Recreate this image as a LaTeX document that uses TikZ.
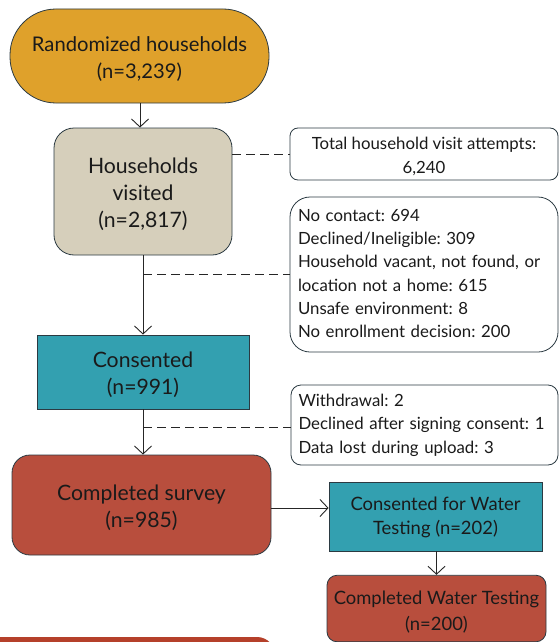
\documentclass[tikz,border=0pt]{standalone}
\usepackage{fontspec}
\setmainfont{Lato}
\usetikzlibrary{arrows.meta}
\definecolor{gold}{HTML}{DFA12B}
\definecolor{beige}{HTML}{D6CFBB}
\definecolor{teal}{HTML}{33A0B0}
\definecolor{brick}{HTML}{B84E3D}
\definecolor{brickdark}{HTML}{B5402A}
\definecolor{edge}{HTML}{2B3A42}
\definecolor{txt}{HTML}{1A1A1A}
\frenchspacing
% line struts: height / depth per text style
\newcommand{\strMain}{\rule[-5pt]{0pt}{27pt}}
\newcommand{\strWat}{\rule[-6.1pt]{0pt}{23.3pt}}
\newcommand{\strWdone}{\rule[-1.8pt]{0pt}{23.3pt}}
\newcommand{\strTot}{\rule[-3pt]{0pt}{21pt}}
\newcommand{\strSide}{\rule[-6.7pt]{0pt}{23.3pt}}
\begin{document}
\begin{tikzpicture}[x=1pt,y=-1pt,
  box/.style={draw=edge,line width=0.8pt,text=txt,align=center,inner sep=0pt},
  randfont/.style={font=\fontsize{20.2}{27}\selectfont},
  mainfont/.style={font=\fontsize{21.2}{27}\selectfont},
  smallfont/.style={font=\fontsize{18.4}{23.3}\selectfont},
  sidefont/.style={font=\fontsize{16.8}{23.3}\selectfont},
  sidebox/.style={draw=edge,line width=0.8pt,fill=white,text=txt,inner sep=0pt},
  conn/.style={line width=0.9pt,draw=black!85},
  arr/.style={conn,-{Straight Barb[length=8pt,width=17pt,line width=0.9pt]}},
  dashline/.style={conn,dash pattern=on 9pt off 5pt}
]
\useasboundingbox (0,0) rectangle (559,642);
\begin{scope}
\clip (0,0) rectangle (559,642);
\fill[brickdark,rounded corners=18pt] (-20,637) rectangle (275,700);
\end{scope}

\node[box,randfont,fill=gold,minimum width=259pt,minimum height=94pt,rounded corners=46pt] (rand) at (139.5,56) {\strMain Randomized households\\\strMain (n=3,239)};
\node[box,mainfont,fill=beige,minimum width=178pt,minimum height=127pt,rounded corners=20pt] (visited) at (143,191.5) {\strMain Households\\\strMain visited\\\strMain (n=2,817)};
\node[sidebox,sidefont,align=center,minimum width=268pt,minimum height=52pt,rounded corners=8pt] (total) at (424,154) {\strTot Total household visit attempts:\\\strTot 6,240};
\node[sidebox,sidefont,align=left,text width=252pt,minimum width=268pt,minimum height=155pt,rounded corners=20pt] (big) at (424,274.5) {\strSide No contact: 694\\\strSide Declined/Ineligible: 309\\\strSide Household vacant, not found, or\\\strSide location not a home: 615\\\strSide Unsafe environment: 8\\\strSide No enrollment decision: 200};
\node[box,mainfont,fill=teal,minimum width=212pt,minimum height=74pt] (cons) at (143,372) {\strMain Consented\\\strMain (n=991)};
\node[sidebox,sidefont,align=left,text width=252pt,minimum width=267pt,minimum height=80pt,rounded corners=10pt] (withd) at (424.5,425) {\strSide Withdrawal: 2\\\strSide Declined after signing consent: 1\\\strSide Data lost during upload: 3};
\node[box,mainfont,fill=brick,minimum width=259pt,minimum height=100pt,rounded corners=18pt] (survey) at (141.5,505) {\strMain Completed survey\\\strMain (n=985)};
\node[box,smallfont,fill=teal,minimum width=213pt,minimum height=68.5pt] (water) at (435.5,516.8) {\strWat Consented for Water\\\strWat Testing (n=202)};
\node[box,smallfont,fill=brick,minimum width=219pt,minimum height=66.5pt,rounded corners=10pt] (wdone) at (436.5,608.5) {\strWdone Completed Water Testing\\\strWdone (n=200)};

\coordinate (a1) at ([xshift=0.5pt]rand.south);
\draw[arr] (a1) -- (a1 |- visited.north);
\draw[arr] (visited.south) -- (visited.south |- cons.north);
\coordinate (j1) at (visited.south |- big.west);
\draw[dashline] (j1) -- (big.west);
\coordinate (j0) at (visited.east |- total.west);
\draw[dashline] (j0) -- (total.west);
\draw[arr] (cons.south) -- (cons.south |- survey.north);
\coordinate (j2) at ([yshift=-2pt]cons.south |- withd.west);
\draw[dashline] (j2) -- (j2 -| withd.west);
\coordinate (a2) at (survey.east |- 0,508);
\draw[arr] (a2) -- (a2 -| water.west);
\coordinate (a3) at (water.south -| wdone.north);
\draw[arr] (a3) -- (wdone.north);
\end{tikzpicture}
\end{document}
